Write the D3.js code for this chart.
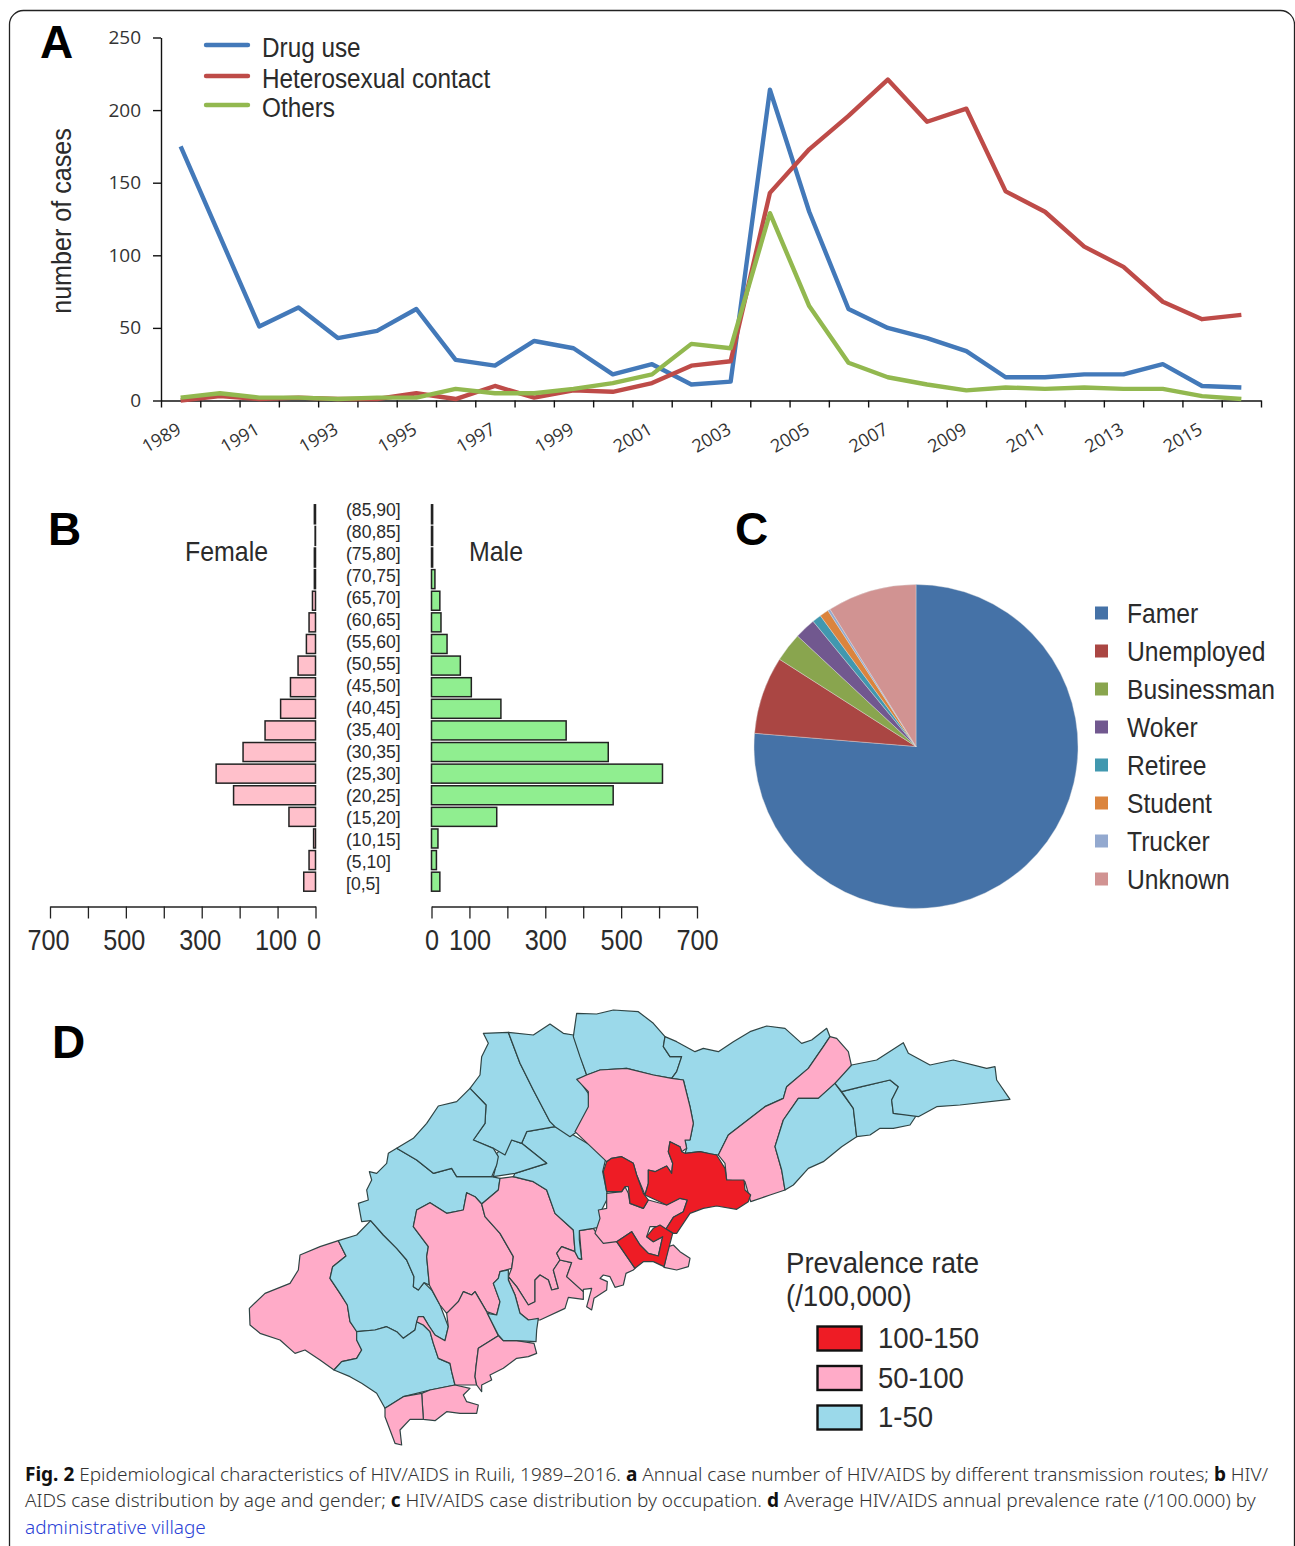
<!DOCTYPE html>
<html>
<head>
<meta charset="utf-8">
<script src="https://cdn.jsdelivr.net/npm/d3@7"></script>
<style>
  html, body { margin: 0; padding: 0; background: #fff; }
  svg { display: block; }
  .narrow { font-family: "Liberation Sans", sans-serif; fill: #2b2b2b; }
  .tick-a text { font-family: "Open Sans", sans-serif; }
  .letter { font-family: "Liberation Sans", sans-serif; font-weight: bold; fill: #000; font-size: 46px; }
  .caption { font-family: "Noto Sans", sans-serif; font-size: 19px; fill: #333; font-weight: 300; }
</style>
</head>
<body>
<svg id="chart" width="1295" height="1546"></svg>
<script>
// Panel A
const years = d3.range(1989, 2017);
const drugUse = [175, 113, 51, 64, 43, 48, 63, 28, 24, 41, 36, 18, 25, 11, 13, 214, 130, 63, 50, 43, 34, 16, 16, 18, 18, 25, 10, 9];
const heterosexual = [0, 3, 1, 2, 1, 1, 5, 1, 10, 2, 7, 6, 12, 24, 27, 143, 173, 196, 221, 192, 201, 144, 130, 106, 92, 68, 56, 59];
const others = [2, 5, 2, 2, 1, 2, 2, 8, 5, 5, 8, 12, 18, 39, 36, 129, 65, 26, 16, 11, 7, 9, 8, 9, 8, 8, 3, 1];
const routeNames = ["Drug use", "Heterosexual contact", "Others"];
const routeColors = ["#4379b9", "#be4b48", "#92b84f"];

// Panel B
const ageGroups = ["[0,5]", "(5,10]", "(10,15]", "(15,20]", "(20,25]", "(25,30]", "(30,35]", "(35,40]", "(40,45]", "(45,50]", "(50,55]", "(55,60]", "(60,65]", "(65,70]", "(70,75]", "(75,80]", "(80,85]", "(85,90]"];
const female = [31, 17, 5, 70, 216, 262, 191, 133, 92, 66, 46, 24, 17, 8, 3, 3, 1, 3];
const male = [22, 13, 17, 172, 479, 609, 466, 355, 183, 105, 76, 41, 25, 22, 9, 3, 3, 3];
const pyramidTicks = [700, 500, 300, 100, 0];

// Panel C
const occupations = ["Famer", "Unemployed", "Businessman", "Woker", "Retiree", "Student", "Trucker", "Unknown"];
const occupationShare = [76.3, 7.75, 2.9, 2.1, 0.9, 0.9, 0.25, 8.9];
const occupationColors = ["#4572a7", "#aa4643", "#89a54e", "#71588f", "#4198af", "#db843d", "#93a9cf", "#d19392"];

// Panel D, outlines traced in map units, rate class is 0 1-50, 1 50-100, 2 100-150
const rateLabels = ["100-150", "50-100", "1-50"];
const rateColors = ["#9bd9ea", "#ffabc8", "#ee1c25"];
const westVillages = [
  [1, [[295,722],[318,768],[278,800],[270,835],[300,880],[322,915],[330,965],[352,995],[350,1020],[365,1050],[350,1075],[305,1085],[282,1110],[240,1080],[195,1050],[165,1060],[120,1020],[60,1000],[30,975],[28,925],[75,880],[150,850],[175,810],[180,765],[240,740]]],
  [0, [[295,722],[350,705],[392,662],[430,705],[470,745],[500,780],[522,830],[520,860],[535,870],[552,848],[575,870],[600,915],[625,980],[615,1022],[585,1005],[565,975],[550,950],[535,950],[525,990],[490,1015],[470,995],[440,980],[405,990],[350,995],[330,965],[322,915],[300,880],[270,835],[278,800],[318,768]]],
  [0, [[470,445],[445,460],[440,490],[410,520],[388,515],[395,540],[380,570],[385,600],[355,610],[365,665],[392,662],[430,705],[470,745],[500,780],[522,830],[520,860],[535,870],[552,848],[568,855],[560,770],[565,740],[520,680],[530,630],[570,608],[620,640],[670,630],[680,578],[705,590],[725,612],[775,570],[780,535],[755,530],[650,530],[635,505],[580,520],[530,480]]],
  [0, [[350,995],[405,990],[440,980],[470,995],[490,1015],[525,990],[530,965],[550,975],[570,995],[580,1030],[595,1075],[630,1090],[635,1115],[645,1155],[570,1170],[490,1190],[435,1225],[410,1180],[365,1150],[330,1130],[282,1110],[305,1085],[350,1075],[365,1050],[350,1020]]],
  [1, [[725,612],[705,590],[680,578],[670,630],[620,640],[570,608],[530,630],[520,680],[565,740],[560,770],[568,855],[600,915],[620,940],[655,905],[670,875],[695,885],[705,875],[740,935],[770,945],[780,905],[760,850],[775,835],[780,815],[815,805],[820,770],[780,700],[735,650]]],
  [1, [[620,940],[655,905],[670,875],[695,885],[705,875],[740,935],[775,1007],[715,1045],[708,1100],[705,1130],[710,1155],[645,1155],[635,1115],[630,1090],[595,1075],[580,1030],[570,995],[550,975],[530,965],[535,950],[550,950],[565,975],[585,1005],[615,1022],[625,980]]],
  [1, [[775,1007],[715,1045],[708,1100],[705,1130],[710,1155],[725,1175],[725,1155],[755,1140],[750,1125],[790,1105],[830,1075],[865,1070],[890,1060],[882,1030],[830,1022],[790,1022]]],
  [1, [[545,1180],[570,1170],[645,1155],[690,1165],[670,1185],[680,1205],[715,1215],[710,1240],[660,1240],[620,1235],[585,1262],[550,1258]]],
  [1, [[435,1225],[490,1190],[545,1180],[550,1258],[510,1258],[480,1290],[485,1335],[465,1330],[450,1290],[435,1250]]],
  [1, [[725,612],[775,570],[780,535],[820,530],[880,545],[920,570],[945,640],[1000,690],[1005,755],[965,740],[950,760],[960,780],[940,810],[955,865],[935,870],[925,840],[900,825],[885,840],[885,905],[865,915],[830,860],[805,830],[815,805],[820,770],[780,700],[735,650]]],
  [1, [[805,840],[825,885],[840,940],[865,960],[900,960],[975,925],[985,892],[1030,898],[1030,875],[980,830],[995,788],[960,780],[940,810],[955,865],[935,870],[925,840],[900,825],[885,840],[885,905],[865,915],[830,860],[805,830]]],
  [0, [[780,815],[805,810],[805,840],[825,885],[840,940],[865,960],[895,955],[890,990],[888,1025],[830,1022],[790,1022],[775,1005],[742,940],[770,945],[780,905],[760,850],[775,835]]],
  [1, [[1018,692],[1060,685],[1080,715],[1130,725],[1185,805],[1180,810],[1158,820],[1150,855],[1125,862],[1110,830],[1090,825],[1080,835],[1102,845],[1100,870],[1062,895],[1055,930],[1040,920],[1055,865],[1030,868],[1030,875],[980,830],[995,788],[960,780],[950,760],[965,740],[1005,755],[1015,775],[1025,778]]],
  [0, [[945,380],[1000,405],[1100,465],[1088,515],[1100,575],[1105,590],[1085,630],[1085,680],[1060,685],[1018,692],[1018,720],[1025,778],[1015,775],[1005,755],[1000,690],[945,640],[920,570],[880,545],[820,530],[825,520],[920,490],[845,430],[860,395]]],
  [0, [[770,460],[815,420],[845,430],[920,490],[825,520],[760,530],[770,490]]],
  [0, [[730,100],[805,97],[840,190],[880,270],[930,365],[945,380],[860,395],[845,430],[815,420],[795,465],[760,445],[700,420],[735,370],[738,315],[690,265],[720,225],[725,170],[745,130]]],
  [0, [[805,97],[880,105],[930,72],[970,100],[1000,105],[1040,225],[1015,238],[1045,280],[1050,330],[1025,385],[990,410],[945,380],[930,365],[880,270],[840,190]]],
  [0, [[690,265],[738,315],[735,370],[700,420],[760,445],[775,470],[770,495],[755,530],[650,530],[635,505],[580,520],[530,480],[470,445],[520,415],[560,370],[595,318],[650,305]]]
];
const eastVillages = [
  [0, [[50,40],[110,42],[160,30],[235,35],[280,70],[315,110],[310,140],[330,170],[365,170],[350,215],[335,235],[280,225],[200,205],[120,210],[80,225],[60,170],[40,110]]],
  [0, [[315,110],[350,125],[405,155],[430,145],[475,155],[520,125],[570,95],[620,78],[675,85],[725,130],[755,120],[800,85],[810,110],[790,140],[745,205],[680,260],[670,295],[615,320],[505,405],[475,465],[450,462],[420,455],[375,460],[380,445],[375,420],[390,420],[400,370],[390,320],[370,240],[335,235],[350,215],[365,170],[330,170],[310,140]]],
  [1, [[80,225],[120,210],[200,205],[280,225],[335,235],[370,240],[390,320],[400,370],[390,420],[375,420],[380,445],[365,455],[360,440],[330,425],[325,455],[338,490],[335,520],[320,498],[285,515],[265,510],[265,550],[255,585],[230,525],[220,490],[185,470],[155,475],[140,485],[45,395],[85,320],[85,275],[50,238]]],
  [1, [[810,110],[830,115],[865,155],[875,200],[825,250],[775,295],[715,295],[670,360],[645,440],[665,510],[675,570],[630,585],[572,605],[555,545],[500,540],[495,490],[475,465],[505,405],[615,320],[670,295],[680,260],[745,205],[790,140]]],
  [0, [[715,295],[775,295],[825,250],[880,325],[890,410],[845,440],[790,485],[745,505],[700,555],[675,570],[665,510],[645,440],[670,360]]],
  [0, [[845,275],[905,260],[990,240],[1015,260],[995,300],[1000,340],[1070,345],[1050,375],[1000,385],[960,385],[930,405],[890,410],[880,325]]],
  [0, [[875,195],[950,180],[1030,128],[1045,160],[1110,195],[1180,180],[1280,205],[1305,200],[1310,240],[1350,298],[1200,315],[1130,320],[1075,350],[1000,340],[995,300],[1015,260],[990,240],[905,260],[845,275],[825,250]]],
  [1, [[340,735],[360,755],[390,775],[385,800],[350,810],[312,802],[325,740]]],
  [1, [[140,580],[185,575],[195,560],[205,580],[210,610],[250,625],[265,600],[320,615],[360,595],[382,600],[370,635],[340,652],[318,687],[295,680],[270,680],[260,710],[280,725],[308,710],[295,768],[265,760],[240,735],[215,695],[170,725],[130,730],[105,700],[120,655],[115,630],[140,625]]],
  [2, [[330,425],[360,440],[365,455],[375,460],[420,455],[470,465],[495,505],[500,540],[552,540],[555,570],[572,585],[565,605],[530,628],[470,618],[430,625],[390,640],[350,700],[340,700],[318,687],[340,652],[370,635],[382,600],[360,595],[320,615],[255,585],[265,550],[265,510],[285,515],[320,498],[335,520],[338,490],[325,455]]],
  [2, [[140,485],[155,475],[185,470],[220,490],[230,525],[250,580],[265,600],[250,625],[210,610],[205,560],[195,560],[185,575],[140,575],[135,545],[130,515]]],
  [2, [[170,725],[215,695],[240,735],[265,760],[295,768],[308,710],[280,725],[260,710],[280,685],[300,675],[338,700],[312,800],[280,785],[250,785],[225,805]]]
];

const captionLines = [
  [["Fig. 2", 1], [" Epidemiological characteristics of HIV/AIDS in Ruili, 1989–2016. ", 0], ["a", 1], [" Annual case number of HIV/AIDS by different transmission routes; ", 0], ["b", 1], [" HIV/", 0]],
  [["AIDS case distribution by age and gender; ", 0], ["c", 1], [" HIV/AIDS case distribution by occupation. ", 0], ["d", 1], [" Average HIV/AIDS annual prevalence rate (/100.000) by", 0]],
  [["administrative village", 2]]
];

const svg = d3.select("#chart");

// no narrow face is installed, so squeeze the glyphs to the reference width
function squeeze(sel, ratio) {
  sel.each(function() {
    d3.select(this).attr("textLength", this.getComputedTextLength() * ratio).attr("lengthAdjust", "spacingAndGlyphs");
  });
}

// outer frame
svg.append("rect").attr("x", 9.5).attr("y", 10.5).attr("width", 1285).attr("height", 1560)
  .attr("rx", 14).attr("fill", "none").attr("stroke", "#222").attr("stroke-width", 1.3);

function letter(t, x, y) {
  svg.append("text").attr("class", "letter").attr("x", x).attr("y", y).text(t);
}
letter("A", 40, 58);
letter("B", 48, 545);
letter("C", 735, 545);
letter("D", 52, 1058);

drawLines();
drawPyramid();
drawPie();
drawMap();
drawCaption();

function drawLines() {
  const x = d3.scaleBand().domain(years).range([161, 1261]);
  const edge = d3.scaleLinear().domain([1989, 2017]).range([161, 1261]);
  const y = d3.scaleLinear().domain([0, 250]).range([400.5, 37.5]);

  const gx = svg.append("g").attr("transform", "translate(0,400.5)")
    .call(d3.axisBottom(edge).tickValues(d3.range(1989, 2018)).tickSize(7).tickSizeOuter(0).tickFormat(""));
  const gy = svg.append("g").attr("class", "tick-a").attr("transform", "translate(161,0)")
    .call(d3.axisLeft(y).tickValues([0, 50, 100, 150, 200, 250]).tickSize(8).tickSizeOuter(0));
  gy.selectAll("text").attr("font-size", 19).attr("fill", "#333").attr("x", -20);
  gx.selectAll("path,line").attr("stroke", "#111").attr("stroke-width", 1.4);
  gy.selectAll("path,line").attr("stroke", "#111").attr("stroke-width", 1.4);

  svg.append("g").selectAll("text").data(years.filter((d, i) => i % 2 == 0)).enter().append("text")
    .attr("transform", d => "translate(" + edge(d) + ",437) rotate(-30)")
    .attr("text-anchor", "middle").attr("dominant-baseline", "central")
    .attr("font-family", "Open Sans, sans-serif").attr("font-size", 18).attr("fill", "#333")
    .text(d => d);

  const line = d3.line().x((d, i) => x(years[i]) + x.bandwidth() / 2).y(d => y(d));
  [drugUse, heterosexual, others].forEach((s, i) => {
    svg.append("path").datum(s).attr("d", line).attr("fill", "none")
      .attr("stroke", routeColors[i]).attr("stroke-width", 4.4).attr("stroke-linejoin", "round");
  });

  const legY = d3.scaleOrdinal().domain(routeNames).range([45, 76, 105]);
  routeNames.forEach((n, i) => {
    svg.append("line").attr("x1", 206).attr("x2", 248).attr("y1", legY(n)).attr("y2", legY(n))
      .attr("stroke", routeColors[i]).attr("stroke-width", 4.4).attr("stroke-linecap", "round");
    svg.append("text").attr("class", "narrow").attr("x", 262).attr("y", legY(n) + 12)
      .attr("font-size", 27).text(n).call(squeeze, 0.9);
  });

  svg.append("text").attr("class", "narrow")
    .attr("transform", "translate(71,221) rotate(-90)").attr("text-anchor", "middle")
    .attr("font-size", 27).text("number of cases").call(squeeze, 0.93);
}

function drawPyramid() {
  const y = d3.scaleBand().domain(ageGroups).range([892.5, 503.5]).paddingInner(0.12).paddingOuter(0.06);
  const labelY = d3.scalePoint().domain(ageGroups).range([883, 509]);
  const xF = d3.scaleLinear().domain([0, 700]).range([315.5, 50]);
  const xM = d3.scaleLinear().domain([0, 700]).range([431.5, 697]);

  svg.append("g").selectAll("rect").data(ageGroups).enter().append("rect")
    .attr("x", (d, i) => xF(female[i])).attr("y", d => y(d))
    .attr("width", (d, i) => xF(0) - xF(female[i])).attr("height", y.bandwidth())
    .attr("fill", "#ffc0cb").attr("stroke", "#222").attr("stroke-width", 1.5);
  svg.append("g").selectAll("rect").data(ageGroups).enter().append("rect")
    .attr("x", xM(0)).attr("y", d => y(d))
    .attr("width", (d, i) => xM(male[i]) - xM(0)).attr("height", y.bandwidth())
    .attr("fill", "#90ee90").attr("stroke", "#222").attr("stroke-width", 1.5);

  svg.append("g").selectAll("text").data(ageGroups).enter().append("text")
    .attr("class", "narrow").attr("x", 346).attr("y", d => labelY(d))
    .attr("dominant-baseline", "central").attr("font-size", 18.5).text(d => d).call(squeeze, 0.95);

  [xF, xM].forEach((sc, k) => {
    const ax = svg.append("g").attr("transform", "translate(0,906.5)")
      .call(d3.axisBottom(sc).tickValues(d3.range(0, 701, 100)).tickSize(12).tickSizeOuter(0)
        .tickFormat(d => pyramidTicks.includes(d) ? d : ""));
    ax.selectAll("path,line").attr("stroke", "#222").attr("stroke-width", 1.3);
    ax.selectAll("text").attr("class", "narrow").attr("font-size", 29).attr("y", 19).attr("dy", "0.85em")
      .attr("x", k == 0 ? -2 : 0).attr("fill", "#333").call(squeeze, 0.87);
  });

  svg.append("text").attr("class", "narrow").attr("x", 185).attr("y", 561).attr("font-size", 28).text("Female").call(squeeze, 0.89);
  svg.append("text").attr("class", "narrow").attr("x", 469).attr("y", 561).attr("font-size", 28).text("Male").call(squeeze, 0.89);
}

function drawPie() {
  const pie = d3.pie().sort(null);
  const arc = d3.arc().innerRadius(0).outerRadius(162);
  svg.append("g").attr("transform", "translate(916,746.5)")
    .selectAll("path").data(pie(occupationShare)).enter().append("path")
    .attr("d", arc).attr("fill", (d, i) => occupationColors[i])
    .attr("stroke", "#ddd").attr("stroke-width", 0.4);

  const legY = d3.scalePoint().domain(occupations).range([613, 879]);
  occupations.forEach((n, i) => {
    svg.append("rect").attr("x", 1095).attr("y", legY(n) - 6.5).attr("width", 13).attr("height", 13)
      .attr("fill", occupationColors[i]);
    svg.append("text").attr("class", "narrow").attr("x", 1127).attr("y", legY(n) + 10)
      .attr("font-size", 28).text(n).call(squeeze, 0.88);
  });
}

function drawMap() {
  const villages = westVillages.concat(eastVillages.map(([r, pts]) => [r, pts.map(p => [p[0] + 960, p[1]])]));
  const projection = d3.geoIdentity().scale(1 / 3).translate([240, 1000]);
  const path = d3.geoPath(projection);
  svg.append("g").selectAll("path").data(villages).enter().append("path")
    .attr("d", d => path({ type: "Polygon", coordinates: [d[1].concat([d[1][0]])] }))
    .attr("fill", d => rateColors[d[0]])
    .attr("stroke", "#2f4444").attr("stroke-width", 1.2).attr("stroke-linejoin", "round");

  svg.append("text").attr("class", "narrow").attr("x", 786).attr("y", 1273).attr("font-size", 29).text("Prevalence rate").call(squeeze, 0.95);
  svg.append("text").attr("class", "narrow").attr("x", 786).attr("y", 1306).attr("font-size", 29).text("(/100,000)").call(squeeze, 0.95);

  const legY = d3.scalePoint().domain(rateLabels).range([1338, 1417]);
  rateLabels.forEach((n, i) => {
    svg.append("rect").attr("x", 817.5).attr("y", legY(n) - 11.5).attr("width", 44).attr("height", 24)
      .attr("fill", rateColors[2 - i]).attr("stroke", "#111").attr("stroke-width", 2.4);
    svg.append("text").attr("class", "narrow").attr("x", 878).attr("y", legY(n) + 10)
      .attr("font-size", 29).text(n).call(squeeze, 0.95);
  });
}

function drawCaption() {
  const lineY = [1481, 1507, 1534];
  captionLines.forEach((parts, i) => {
    const t = svg.append("text").attr("class", "caption").attr("x", 25).attr("y", lineY[i])
      .style("white-space", "pre");
    parts.forEach(([s, kind]) => {
      const sp = t.append("tspan").text(s);
      if (kind == 1) sp.attr("font-weight", "bold").attr("fill", "#111");
      if (kind == 2) sp.attr("fill", "#2a3fd6");
    });
  });
}
</script>
</body>
</html>
